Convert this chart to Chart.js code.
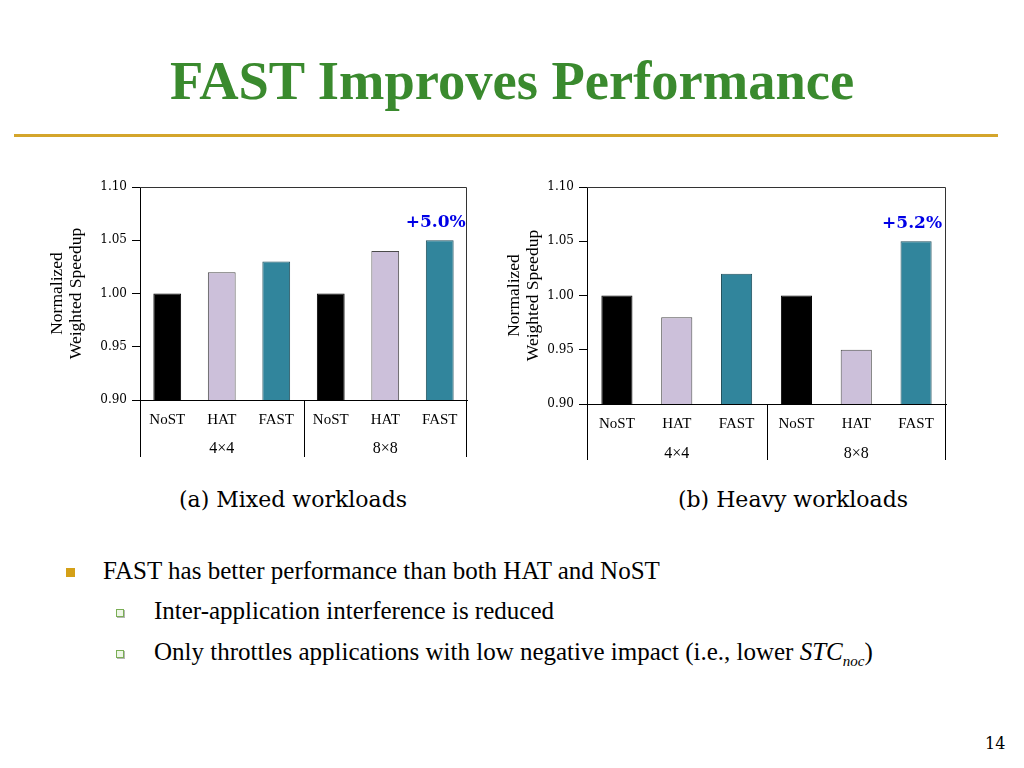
<!DOCTYPE html>
<html>
<head>
<meta charset="utf-8">
<title>FAST Improves Performance</title>
<script src="https://cdn.jsdelivr.net/npm/chart.js"></script>
<style>
  body { margin: 0; background: #fff; }
  #slide { position: relative; width: 1024px; height: 768px; overflow: hidden; background: #fff; }
  .abs { position: absolute; white-space: nowrap; }
  #title { left: 0; top: 51px; width: 1024px; text-align: center; font: bold 54.5px "Liberation Serif", serif; line-height: 60px; color: #3a8a2e; }
  #rule { left: 14px; top: 134px; width: 984px; height: 3px; background: #d4a52b; }
  .caption { font: 22px "DejaVu Serif", serif; color: #000; top: 487px; width: 300px; text-align: center; }
  .bullet { font: 25px "Liberation Serif", serif; color: #000; line-height: 30px; }
  .sq { background: #d4a017; width: 9px; height: 9px; }
  .sq2 { width: 6px; height: 6px; border: 1px solid #7aae55; background: #eef6e6; box-shadow: 1px 1px 0 #b5b5b5; }
  #page { left: 985px; top: 734px; font: 16px "DejaVu Serif", serif; color: #000; }
  canvas { position: absolute; }
</style>
</head>
<body>
<div id="slide">
  <div id="title" class="abs">FAST Improves Performance</div>
  <div id="rule" class="abs"></div>

  <canvas id="mixedChart" width="440" height="300" style="left:40px;top:170px"></canvas>
  <canvas id="heavyChart" width="460" height="300" style="left:500px;top:170px"></canvas>

  <div class="abs caption" style="left:143px">(a) Mixed workloads</div>
  <div class="abs caption" style="left:643px">(b) Heavy workloads</div>

  <div class="abs sq" style="left:66px;top:568px"></div>
  <div class="abs bullet" style="left:103px;top:556px">FAST has better performance than both HAT and NoST</div>
  <div class="abs sq2" style="left:116px;top:609px"></div>
  <div class="abs bullet" style="left:154px;top:596px">Inter-application interference is reduced</div>
  <div class="abs sq2" style="left:116px;top:650px"></div>
  <div class="abs bullet" style="left:154px;top:637px">Only throttles applications with low negative impact (i.e., lower <i>STC</i><sub style="font-size:15px"><i>noc</i></sub>)</div>

  <div id="page" class="abs">14</div>
</div>

<script>
// data
const categories = ['NoST', 'HAT', 'FAST', 'NoST', 'HAT', 'FAST'];
const groups = ['4×4', '8×8'];
const mixedValues = [1.00, 1.02, 1.03, 1.00, 1.04, 1.05];
const heavyValues = [1.00, 0.98, 1.02, 1.00, 0.95, 1.05];
const yTicks = [0.90, 0.95, 1.00, 1.05, 1.10];
const gains = ['+5.0%', '+5.2%'];

const barColors = ['#000000', '#ccc0da', '#31859c', '#000000', '#ccc0da', '#31859c'];
const barBorders = ['#000000', '#4a4a4a', '#1f4f5c', '#000000', '#4a4a4a', '#1f4f5c'];

// group label sits under the middle bar of each group of three
let groupLabels = [];
for (let i = 0; i < categories.length; i++) {
    groupLabels.push(i % 3 === 1 ? groups[Math.floor(i / 3)] : '');
}

// frame on top/right, separators under the axis, the gain text
const slidePlugin = {
    id: 'slidePlugin',
    afterDraw(chart, args, opts) {
        let ctx = chart.ctx;
        let area = chart.chartArea;
        let x = chart.scales.x;
        ctx.save();
        ctx.strokeStyle = '#333';
        ctx.lineWidth = 1;
        ctx.beginPath();
        ctx.moveTo(area.left, area.top + 0.5);
        ctx.lineTo(area.right - 0.5, area.top + 0.5);
        ctx.lineTo(area.right - 0.5, area.bottom);
        ctx.stroke();
        // group separators
        ctx.strokeStyle = '#000';
        [-0.5, 2.5, 5.5].forEach(function (v) {
            let px = Math.round(x.getPixelForValue(v)) + 0.5;
            if (v === 5.5) px -= 1;
            ctx.beginPath();
            ctx.moveTo(px, area.bottom);
            ctx.lineTo(px, area.bottom + opts.sepLen);
            ctx.stroke();
        });
        // gain label above the last bar
        let bar = chart.getDatasetMeta(0).data[categories.length - 1];
        ctx.fillStyle = '#0000e6';
        ctx.font = 'bold 17px "DejaVu Serif", serif';
        ctx.textAlign = 'center';
        ctx.textBaseline = 'alphabetic';
        ctx.fillText(opts.text, bar.x - 4, bar.y - 13);
        ctx.restore();
    }
};

function makeChart(id, values, gain, lay) {
    let ctx = document.getElementById(id).getContext('2d');
    return new Chart(ctx, {
        type: 'bar',
        data: {
            labels: categories,
            datasets: [{
                data: values,
                backgroundColor: barColors,
                borderColor: barBorders,
                borderWidth: 1,
                barPercentage: lay.barPct,
                categoryPercentage: 1.0
            }]
        },
        options: {
            responsive: false,
            animation: false,
            layout: { padding: { top: 17, right: lay.right, left: 0, bottom: 0 } },
            plugins: {
                legend: { display: false },
                tooltip: { enabled: false },
                slidePlugin: { text: gain, sepLen: lay.sepLen }
            },
            scales: {
                y: {
                    min: 0.9,
                    max: 1.1,
                    afterFit: function (s) { s.width = lay.yWidth; },
                    afterBuildTicks: function (s) { s.ticks = yTicks.map(v => ({ value: v })); },
                    ticks: {
                        color: '#000',
                        padding: 5,
                        font: { family: '"DejaVu Serif", serif', size: 12 },
                        callback: v => v.toFixed(2)
                    },
                    grid: { drawOnChartArea: false, tickLength: 8, color: '#000' },
                    border: { display: true, color: '#000' },
                    title: {
                        display: true,
                        text: ['Normalized', 'Weighted Speedup'],
                        color: '#000',
                        padding: { top: lay.titlePad, bottom: 0 },
                        font: { family: '"Liberation Serif", serif', size: 17.5, lineHeight: 1.1 }
                    }
                },
                x: {
                    afterFit: function (s) { s.height = lay.xHeight; },
                    grid: { display: false, drawTicks: false },
                    border: { display: true, color: '#000' },
                    ticks: {
                        color: '#000',
                        padding: 11,
                        maxRotation: 0,
                        autoSkip: false,
                        font: { family: '"Liberation Serif", serif', size: 15 }
                    }
                },
                x2: {
                    type: 'category',
                    position: 'bottom',
                    labels: groupLabels,
                    offset: true,
                    afterFit: function (s) { s.height = lay.x2Height; },
                    grid: { display: false, drawTicks: false },
                    border: { display: false },
                    ticks: {
                        color: '#000',
                        padding: lay.x2Pad,
                        maxRotation: 0,
                        autoSkip: false,
                        font: { family: '"Liberation Serif", serif', size: 16 }
                    }
                }
            }
        },
        plugins: [slidePlugin]
    });
}

makeChart('mixedChart', mixedValues, gains[0],
    { yWidth: 100, right: 13, xHeight: 30, x2Height: 40, x2Pad: 9, sepLen: 57, barPct: 0.51, titlePad: 8 });
makeChart('heavyChart', heavyValues, gains[1],
    { yWidth: 87, right: 14, xHeight: 30, x2Height: 36, x2Pad: 10, sepLen: 56, barPct: 0.52, titlePad: 5 });
</script>
</body>
</html>
